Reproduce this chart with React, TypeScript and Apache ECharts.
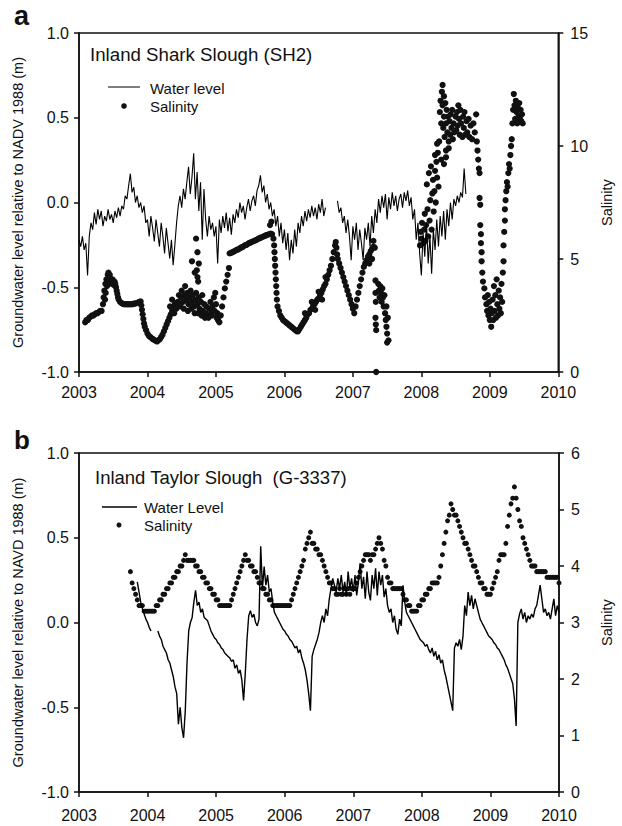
import React, { useEffect, useRef } from "react";
import * as echarts from "echarts";

const FONT = '"Liberation Sans", Arial, Helvetica, sans-serif';

// ---------- Panel a : Inland Shark Slough (SH2) ----------
const waterAStart = 2003.0;
const waterAStep = 0.025;
const waterA: (number | string)[] = [
  // 2003
  -0.22, -0.26, -0.2, -0.28, -0.24, -0.43, -0.2, -0.12, -0.16, -0.06,
  -0.13, -0.04, -0.1, -0.05, -0.14, -0.08, -0.11, -0.04, -0.1, -0.07,
  -0.12, -0.05, -0.09, -0.03, -0.08, -0.02, -0.04, 0.04, 0.02, 0.1,
  0.17, 0.06, 0.09, 0.0, 0.04, -0.03, 0.0, -0.06, -0.02, -0.12,
  // 2004
  -0.1, -0.2, -0.08, -0.15, -0.23, -0.1, -0.18, -0.26, -0.12, -0.2,
  -0.3, -0.15, -0.24, -0.33, -0.22, -0.37, -0.25, -0.12, -0.02, 0.04,
  -0.03, 0.08, 0.02, 0.12, 0.21, 0.05, 0.15, 0.29, 0.02, 0.18,
  -0.05, 0.12, -0.22, 0.08, -0.1, -0.2, -0.08, -0.16, -0.12, -0.2,
  // 2005
  -0.14, -0.36, -0.1, -0.18, -0.08, -0.15, -0.06, -0.17, -0.09, -0.19,
  -0.07, -0.12, -0.04, -0.09, 0.0, -0.06, -0.02, -0.1, -0.03, 0.02,
  -0.05, 0.01, 0.04, -0.02, 0.07, 0.1, 0.16, 0.06, 0.1, 0.0,
  0.05, -0.04, 0.0, -0.08, -0.04, -0.14, -0.08, -0.2, -0.12, -0.24,
  // 2006
  -0.16, -0.28, -0.18, -0.34, -0.22, -0.3, -0.16, -0.26, -0.12, -0.18,
  -0.08, -0.14, -0.05, -0.11, -0.04, -0.09, -0.02, -0.08, -0.03, -0.1,
  -0.01, -0.06, 0.02, -0.08, -0.03, "-", "-", "-", "-", "-",
  "-", 0.01, -0.06, -0.03, -0.12, -0.08, -0.18, -0.1, -0.2, -0.34,
  // 2007
  -0.14, -0.22, -0.12, -0.28, -0.16, -0.24, -0.34, -0.15, -0.22, -0.12,
  -0.26, -0.08, -0.18, -0.04, -0.12, 0.02, -0.06, 0.04, -0.03, 0.05,
  -0.1, 0.03, -0.04, 0.06, -0.02, 0.04, -0.05, 0.02, 0.05, -0.03,
  0.06, 0.01, 0.07, -0.02, 0.03, -0.1, -0.04, -0.22, -0.12, -0.3,
  // 2008
  -0.43, -0.18, -0.32, -0.12, -0.36, -0.2, -0.42, -0.16, -0.28, -0.1,
  -0.26, -0.08, -0.2, -0.05, -0.22, -0.04, -0.14, 0.0, -0.1, 0.02,
  -0.02, 0.04, 0.0, 0.06, 0.03, 0.2, 0.05,
];

const salinityA: [number, number][] = [
  [2003.09, 2.2], [2003.11, 2.3], [2003.13, 2.3], [2003.15, 2.4], [2003.17, 2.45], [2003.19, 2.5],
  [2003.21, 2.5], [2003.23, 2.55], [2003.25, 2.6], [2003.27, 2.6], [2003.29, 2.65], [2003.31, 2.7], [2003.33, 2.7],
  [2003.35, 3.0], [2003.36, 3.3], [2003.37, 3.6], [2003.38, 3.2], [2003.385, 3.9], [2003.39, 3.5], [2003.4, 4.1],
  [2003.41, 3.8], [2003.42, 4.3], [2003.43, 4.4], [2003.44, 4.2], [2003.45, 4.3], [2003.46, 4.0], [2003.47, 4.1],
  [2003.48, 3.9], [2003.49, 4.1], [2003.5, 4.0], [2003.51, 3.85], [2003.52, 4.0], [2003.53, 3.9], [2003.54, 3.75],
  [2003.55, 3.6], [2003.56, 3.45], [2003.57, 3.3], [2003.58, 3.2], [2003.6, 3.1],
  [2003.62, 3.05], [2003.64, 3.02], [2003.66, 3.0], [2003.68, 3.0], [2003.7, 3.0], [2003.72, 3.0], [2003.74, 3.0],
  [2003.76, 3.0], [2003.78, 3.0], [2003.8, 3.02], [2003.82, 3.03], [2003.84, 3.05], [2003.86, 3.07], [2003.88, 3.1], [2003.9, 3.12],
  [2003.91, 2.95], [2003.92, 2.75], [2003.93, 2.55], [2003.94, 2.35], [2003.95, 2.15], [2003.96, 2.0], [2003.98, 1.85],
  [2004.0, 1.7], [2004.02, 1.6], [2004.04, 1.55], [2004.06, 1.5], [2004.08, 1.45], [2004.1, 1.42], [2004.12, 1.38],
  [2004.14, 1.35], [2004.16, 1.4], [2004.18, 1.45], [2004.2, 1.55], [2004.22, 1.65], [2004.24, 1.8], [2004.26, 1.95],
  [2004.28, 2.1], [2004.3, 2.25], [2004.32, 2.4], [2004.34, 2.55], [2004.36, 2.7], [2004.38, 2.85], [2004.4, 3.0],
  [2004.33, 2.9], [2004.36, 3.2], [2004.39, 2.6], [2004.42, 2.8],
  [2004.44, 3.1], [2004.46, 3.4], [2004.47, 2.9], [2004.49, 3.3], [2004.5, 3.6], [2004.52, 3.1], [2004.54, 3.4],
  [2004.55, 3.8], [2004.57, 3.2], [2004.58, 3.5], [2004.6, 3.0], [2004.62, 3.3], [2004.63, 3.6], [2004.65, 3.1],
  [2004.66, 3.4], [2004.68, 2.9], [2004.7, 3.2], [2004.71, 3.5], [2004.73, 3.0], [2004.75, 3.3], [2004.76, 2.8],
  [2004.78, 3.1], [2004.8, 3.4], [2004.81, 2.7], [2004.83, 3.0], [2004.85, 2.6], [2004.86, 2.9], [2004.88, 2.5],
  [2004.9, 2.8], [2004.92, 3.1], [2004.93, 2.6], [2004.95, 2.9], [2004.97, 3.3], [2004.99, 3.5], [2005.0, 3.0],
  [2005.02, 2.6], [2005.03, 2.3], [2005.05, 2.2], [2005.07, 2.5], [2005.09, 2.9], [2005.11, 3.3], [2005.13, 3.7],
  [2005.15, 4.0], [2005.17, 4.3], [2005.19, 4.6],
  [2004.48, 3.0], [2004.53, 2.8], [2004.59, 2.7], [2004.64, 2.8], [2004.69, 2.6], [2004.74, 2.6], [2004.79, 2.5],
  [2004.84, 2.4], [2004.89, 2.4], [2004.94, 2.5], [2004.98, 2.7], [2005.01, 2.4],
  [2004.65, 4.9], [2004.71, 5.9], [2004.73, 5.3], [2004.75, 4.8], [2004.72, 4.5], [2004.73, 4.2], [2004.74, 4.0], [2004.69, 4.4],
  [2005.2, 5.25], [2005.22, 5.27], [2005.24, 5.3], [2005.26, 5.33], [2005.28, 5.36], [2005.3, 5.4], [2005.32, 5.42],
  [2005.34, 5.45], [2005.36, 5.5], [2005.38, 5.52], [2005.4, 5.55], [2005.42, 5.6], [2005.44, 5.62], [2005.46, 5.65],
  [2005.48, 5.7], [2005.5, 5.72], [2005.52, 5.75], [2005.54, 5.78], [2005.56, 5.8], [2005.58, 5.83], [2005.6, 5.86],
  [2005.62, 5.9], [2005.64, 5.92], [2005.66, 5.95], [2005.68, 5.98], [2005.7, 6.0], [2005.72, 6.03], [2005.74, 6.06],
  [2005.76, 6.08], [2005.78, 6.1], [2005.8, 6.12], [2005.82, 6.1], [2005.84, 5.9], [2005.79, 6.5], [2005.81, 6.65],
  [2005.85, 5.6], [2005.855, 5.3], [2005.86, 5.0], [2005.865, 4.7], [2005.87, 4.4], [2005.875, 4.1], [2005.88, 3.8],
  [2005.885, 3.5], [2005.89, 3.2], [2005.9, 2.9], [2005.92, 2.7], [2005.94, 2.5], [2005.96, 2.4], [2005.98, 2.3],
  [2006.0, 2.25], [2006.02, 2.2], [2006.04, 2.15], [2006.06, 2.1], [2006.08, 2.05], [2006.1, 2.0], [2006.12, 1.95],
  [2006.14, 1.9], [2006.16, 1.85], [2006.18, 1.8],
  [2006.2, 1.8], [2006.22, 1.9], [2006.24, 2.0], [2006.26, 2.1], [2006.28, 2.2], [2006.3, 2.3], [2006.32, 2.4],
  [2006.34, 2.55], [2006.36, 2.6], [2006.38, 2.75], [2006.4, 2.8], [2006.42, 2.95], [2006.44, 3.0], [2006.46, 3.1],
  [2006.48, 3.2], [2006.5, 3.25], [2006.52, 3.4], [2006.54, 3.5], [2006.56, 3.65], [2006.58, 3.8], [2006.6, 3.9],
  [2006.62, 4.1], [2006.64, 4.3], [2006.66, 4.5], [2006.68, 4.7], [2006.7, 5.0], [2006.72, 5.3], [2006.74, 5.6], [2006.75, 5.75],
  [2006.3, 2.6], [2006.4, 3.1], [2006.5, 3.55], [2006.6, 4.2], [2006.45, 2.75], [2006.55, 3.2],
  [2006.76, 5.5], [2006.77, 5.2], [2006.78, 5.0], [2006.8, 4.8], [2006.82, 4.6], [2006.84, 4.4], [2006.86, 4.2],
  [2006.88, 4.0], [2006.9, 3.8], [2006.92, 3.6], [2006.94, 3.4], [2006.96, 3.2], [2006.98, 3.0], [2007.0, 2.8], [2007.02, 2.6],
  [2007.04, 2.9], [2007.06, 3.2], [2007.08, 3.5], [2007.1, 3.8], [2007.12, 4.1], [2007.14, 4.4], [2007.16, 4.65],
  [2007.18, 4.8], [2007.2, 4.95], [2007.22, 5.1], [2007.24, 5.2], [2007.26, 5.35], [2007.28, 5.45], [2007.3, 5.55],
  [2007.32, 5.5], [2007.24, 4.8], [2007.28, 5.0], [2007.3, 5.8],
  [2007.33, 4.05], [2007.33, 3.5], [2007.335, 3.1], [2007.33, 2.4], [2007.335, 2.1], [2007.34, 1.85], [2007.34, 0.0],
  [2007.37, 3.9], [2007.38, 3.6], [2007.39, 3.3], [2007.4, 3.8], [2007.41, 3.5], [2007.42, 3.1], [2007.43, 3.7],
  [2007.44, 3.3], [2007.45, 2.9], [2007.46, 3.4], [2007.47, 2.6], [2007.48, 2.3], [2007.49, 2.9], [2007.49, 2.0],
  [2007.5, 1.7], [2007.51, 2.4], [2007.52, 1.4], [2007.5, 1.3],
  [2007.98, 5.6], [2007.99, 6.2], [2008.0, 5.9], [2008.01, 6.6], [2008.03, 5.7], [2008.04, 6.3], [2008.05, 7.0],
  [2008.06, 5.8], [2008.07, 6.5], [2008.08, 8.3], [2008.09, 7.2], [2008.1, 6.0], [2008.11, 8.8], [2008.12, 6.7],
  [2008.13, 7.6], [2008.14, 9.1], [2008.15, 6.3], [2008.16, 7.9], [2008.17, 8.5], [2008.18, 7.1], [2008.19, 8.0],
  [2008.2, 8.9], [2008.21, 7.5], [2008.22, 9.3], [2008.23, 8.6], [2008.24, 9.7], [2008.25, 8.2],
  [2008.2, 9.6], [2008.23, 10.1], [2008.29, 9.4], [2008.33, 9.2], [2008.36, 9.5], [2008.4, 9.9],
  [2008.26, 10.2], [2008.27, 11.5], [2008.28, 12.0], [2008.29, 11.0], [2008.3, 12.4], [2008.31, 12.7], [2008.31, 11.8],
  [2008.32, 10.8], [2008.33, 12.2], [2008.33, 11.3], [2008.34, 10.4], [2008.35, 11.9], [2008.36, 11.0], [2008.36, 9.8],
  [2008.37, 11.6], [2008.38, 10.6], [2008.39, 11.3], [2008.4, 10.2], [2008.41, 11.1], [2008.42, 10.5], [2008.43, 11.4],
  [2008.44, 10.8], [2008.45, 11.6], [2008.46, 10.3], [2008.47, 11.0], [2008.48, 10.6], [2008.5, 11.3], [2008.51, 10.7],
  [2008.52, 11.5], [2008.53, 10.9], [2008.54, 11.8], [2008.55, 11.2], [2008.56, 10.5], [2008.57, 11.6], [2008.58, 11.0],
  [2008.6, 10.4], [2008.61, 11.3], [2008.62, 10.8], [2008.63, 11.5], [2008.64, 10.5], [2008.66, 11.1], [2008.67, 10.6],
  [2008.69, 11.2], [2008.7, 10.4], [2008.72, 10.9], [2008.74, 10.3], [2008.76, 11.0], [2008.78, 10.6], [2008.8, 11.4],
  [2008.81, 10.2], [2008.82, 9.8], [2008.83, 9.4], [2008.84, 9.0], [2008.85, 8.8],
  [2008.85, 7.7], [2008.86, 7.4], [2008.86, 6.5], [2008.87, 6.1], [2008.87, 5.7], [2008.88, 5.3], [2008.88, 4.9],
  [2008.89, 4.4], [2008.9, 4.0], [2008.92, 3.7], [2008.93, 3.3], [2008.95, 3.0], [2008.96, 2.7], [2008.97, 3.4],
  [2008.98, 2.5], [2008.99, 3.1], [2009.0, 2.3], [2009.01, 2.8], [2009.02, 2.0], [2009.03, 2.6], [2009.04, 3.2],
  [2009.05, 2.3], [2009.06, 3.8], [2009.07, 2.7], [2009.08, 3.4], [2009.09, 2.4], [2009.1, 4.1], [2009.11, 3.0],
  [2009.12, 2.5], [2009.13, 3.6], [2009.14, 2.8], [2009.15, 3.3], [2009.16, 2.6], [2009.17, 3.9], [2009.18, 3.1],
  [2009.19, 4.4], [2009.2, 4.9], [2009.2, 5.6], [2009.21, 6.2], [2009.22, 6.7], [2009.22, 7.2], [2009.23, 7.6],
  [2009.24, 8.0], [2009.25, 8.4], [2009.26, 8.2], [2009.27, 8.8], [2009.28, 9.2], [2009.29, 9.0], [2009.3, 9.6],
  [2009.31, 10.0], [2009.32, 10.3], [2009.33, 11.0], [2009.34, 11.6], [2009.35, 12.3], [2009.36, 11.8], [2009.37, 11.2],
  [2009.38, 12.0], [2009.39, 11.5], [2009.4, 11.0], [2009.41, 11.7], [2009.42, 11.3], [2009.43, 11.9], [2009.44, 11.2],
  [2009.45, 11.6], [2009.46, 11.1], [2009.47, 11.4], [2009.48, 11.0],
];

// ---------- Panel b : Inland Taylor Slough (G-3337) ----------
const waterBStart = 2003.85;
const waterBStep = 0.025;
const waterB: (number | string)[] = [
  0.24, 0.18, 0.12, 0.08, 0.05, 0.02,
  // 2004
  0.0, -0.03, -0.05, "-", "-", "-", -0.05, -0.08, -0.1, -0.14,
  -0.16, -0.18, -0.22, -0.24, -0.28, -0.32, -0.38, -0.42, -0.6, -0.5,
  -0.62, -0.68, -0.52, -0.24, -0.05, 0.0, 0.03, 0.12, 0.19, 0.1,
  0.12, 0.06, 0.08, 0.03, 0.02, 0.01, -0.02, -0.05, -0.07, -0.09,
  // 2005
  -0.1, -0.12, -0.13, -0.15, -0.16, -0.18, -0.19, -0.2, -0.21, -0.23,
  -0.22, -0.27, -0.25, -0.3, -0.28, -0.34, -0.46, -0.3, -0.1, 0.04,
  0.07, 0.03, 0.05, 0.0, -0.02, 0.02, 0.45, 0.2, 0.33, 0.22,
  0.28, 0.18, 0.2, 0.12, 0.06, 0.04, 0.02, 0.0, -0.02, -0.04,
  // 2006
  -0.05, -0.07, -0.08, -0.1, -0.11, -0.13, -0.15, -0.14, -0.18, -0.16,
  -0.21, -0.24, -0.28, -0.34, -0.42, -0.52, -0.2, -0.16, -0.13, -0.1,
  -0.06, 0.0, 0.04, 0.0, 0.08, 0.04, 0.14, 0.2, 0.26, 0.22,
  0.18, 0.26, 0.2, 0.28, 0.18, 0.24, 0.16, 0.3, 0.2, 0.26,
  // 2007
  0.18, 0.28, 0.16, 0.24, 0.35, 0.2, 0.27, 0.14, 0.3, 0.18,
  0.13, 0.28, 0.2, 0.32, 0.16, 0.3, 0.22, 0.28, 0.15, 0.2,
  0.1, 0.06, 0.08, 0.0, 0.04, -0.04, -0.07, 0.02, -0.02, 0.22,
  0.12, 0.06, 0.04, 0.02, 0.0, -0.02, -0.04, -0.06, -0.08, -0.1,
  // 2008
  -0.11, -0.12, -0.14, -0.13, -0.16, -0.18, -0.15, -0.2, -0.17, -0.22,
  -0.19, -0.24, -0.22, -0.28, -0.32, -0.37, -0.42, -0.47, -0.52, -0.15,
  -0.12, -0.14, -0.1, -0.16, -0.08, 0.1, 0.04, 0.18, 0.1, 0.16,
  0.08, 0.14, 0.1, 0.06, 0.02, 0.0, -0.02, -0.04, -0.06, -0.08,
  // 2009
  -0.09, -0.1, -0.12, -0.13, -0.15, -0.16, -0.18, -0.2, -0.22, -0.25,
  -0.27, -0.3, -0.33, -0.36, -0.45, -0.61, 0.0, 0.05, 0.08, 0.02,
  0.06, 0.0, 0.04, 0.02, 0.05, 0.03, 0.08, 0.1, 0.16, 0.22,
  0.14, 0.06, 0.08, 0.04, 0.06, 0.02, 0.08, 0.14, 0.04, 0.1,
  0.06,
];

const salinityBStart = 2003.75;
const salinityBStep = 0.025;
const salinityB: number[] = [
  3.9, 3.7, 3.6, 3.5, 3.4, 3.3, 3.3, 3.3, 3.2, 3.2,
  // 2004
  3.2, 3.2, 3.2, 3.2, 3.2, 3.3, 3.3, 3.4, 3.4, 3.5,
  3.5, 3.6, 3.6, 3.7, 3.7, 3.8, 3.8, 3.9, 3.9, 4.0,
  4.0, 4.1, 4.2, 4.1, 4.1, 4.1, 4.1, 4.1, 4.0, 4.0,
  3.9, 3.9, 3.8, 3.8, 3.7, 3.7, 3.6, 3.6, 3.5, 3.5,
  // 2005
  3.4, 3.4, 3.3, 3.3, 3.3, 3.3, 3.3, 3.3, 3.3, 3.4,
  3.5, 3.6, 3.7, 3.8, 3.9, 4.0, 4.1, 4.2, 4.1, 4.1,
  4.0, 4.0, 3.9, 3.9, 3.8, 3.7, 3.7, 3.6, 3.6, 3.5,
  3.5, 3.4, 3.4, 3.3, 3.3, 3.3, 3.3, 3.3, 3.3, 3.3,
  // 2006
  3.3, 3.3, 3.3, 3.3, 3.4, 3.5, 3.6, 3.7, 3.8, 3.9,
  4.0, 4.1, 4.3, 4.4, 4.5, 4.6, 4.4, 4.4, 4.3, 4.3,
  4.2, 4.2, 4.1, 4.0, 3.9, 3.8, 3.7, 3.7, 3.6, 3.6,
  3.5, 3.5, 3.6, 3.5, 3.5, 3.6, 3.5, 3.6, 3.5, 3.6,
  // 2007
  3.6, 3.6, 3.7, 3.8, 3.9, 4.0, 4.1, 4.2, 4.2, 4.2,
  4.1, 4.2, 4.2, 4.3, 4.4, 4.5, 4.4, 4.3, 4.1, 4.0,
  3.8, 3.7, 3.7, 3.6, 3.6, 3.6, 3.6, 3.6, 3.6, 3.5,
  3.4, 3.4, 3.3, 3.3, 3.2, 3.2, 3.2, 3.2, 3.3, 3.3,
  // 2008
  3.4, 3.4, 3.5, 3.5, 3.6, 3.6, 3.7, 3.7, 3.7, 3.7,
  3.8, 4.0, 4.2, 4.4, 4.6, 4.8, 4.9, 5.1, 5.0, 4.9,
  4.9, 4.8, 4.7, 4.6, 4.5, 4.4, 4.4, 4.3, 4.2, 4.1,
  4.0, 4.0, 3.9, 3.8, 3.7, 3.7, 3.6, 3.6, 3.5, 3.5,
  // 2009
  3.5, 3.6, 3.7, 3.8, 3.9, 4.1, 4.2, 4.2, 4.2, 4.4,
  4.7, 4.9, 5.1, 5.2, 5.4, 5.2, 5.0, 4.8, 4.7, 4.5,
  4.4, 4.3, 4.2, 4.1, 4.0, 4.0, 4.0, 3.9, 3.9, 3.9,
  3.9, 3.9, 3.9, 3.8, 3.8, 3.8, 3.8, 3.8, 3.8, 3.8,
  3.7,
];

// ---------- Axes ----------
const yearMin = 2003;
const yearMax = 2010;
const levelMin = -1;
const levelMax = 1;
const salAMax = 15;
const salAInterval = 5;
const salBMax = 6;
const salBInterval = 1;

const titleA = "Inland Shark Slough (SH2)";
const titleB = "Inland Taylor Slough  (G-3337)";
const leftName = "Groundwater level relative to NADV 1988 (m)";
const leftNameB = "Groundwater level relative to NAVD 1988 (m)";

const toSeries = (start: number, step: number, vals: (number | string)[]) =>
  vals.map((v, i) => [Math.round((start + i * step) * 1000) / 1000, v]);

const INK = "#111";

function xAxis(gridIndex: number, margin: number) {
  return {
    gridIndex,
    type: "value",
    min: yearMin,
    max: yearMax,
    interval: 1,
    axisLine: { show: true, onZero: false, lineStyle: { color: INK, width: 1.5 } },
    axisTick: { show: true, length: 5, lineStyle: { color: INK, width: 1.5 } },
    axisLabel: { margin, fontSize: 16, color: INK, fontFamily: FONT, formatter: (v: number) => String(v) },
    splitLine: { show: false },
  };
}

function leftAxis(gridIndex: number, name: string) {
  return {
    gridIndex,
    type: "value",
    position: "left",
    min: levelMin,
    max: levelMax,
    interval: 0.5,
    name,
    nameLocation: "middle",
    nameRotate: 90,
    nameGap: 54,
    nameTextStyle: { fontSize: 14.5, color: INK, fontFamily: FONT },
    axisLine: { show: true, onZero: false, lineStyle: { color: INK, width: 1.5 } },
    axisTick: { show: true, length: 5, lineStyle: { color: INK, width: 1.5 } },
    axisLabel: { margin: 10, fontSize: 16, color: INK, fontFamily: FONT, formatter: (v: number) => v.toFixed(1) },
    splitLine: { show: false },
  };
}

function rightAxis(gridIndex: number, max: number, interval: number) {
  return {
    gridIndex,
    type: "value",
    position: "right",
    min: 0,
    max,
    interval,
    name: "Salinity",
    nameLocation: "middle",
    nameRotate: 90,
    nameGap: 40,
    nameTextStyle: { fontSize: 14.5, color: INK, fontFamily: FONT },
    axisLine: { show: true, onZero: false, lineStyle: { color: INK, width: 1.5 } },
    axisTick: { show: true, length: 5, lineStyle: { color: INK, width: 1.5 } },
    axisLabel: { margin: 12, fontSize: 16, color: INK, fontFamily: FONT, formatter: (v: number) => String(v) },
    splitLine: { show: false },
  };
}

function txt(text: string, x: number, y: number, font: string) {
  return {
    type: "text",
    x,
    y,
    style: { text, fill: INK, font, verticalAlign: "middle", align: "left" },
  };
}

export default function App() {
  const ref = useRef<HTMLDivElement>(null);
  useEffect(() => {
    if (!ref.current) return;
    const chart = echarts.init(ref.current, null, { renderer: "svg" });
    const gridBase = { left: 79, width: 484, height: 339, show: true, borderColor: INK, borderWidth: 1.5 };
    chart.setOption({
      animation: false,
      backgroundColor: "#fff",
      grid: [
        { ...gridBase, top: 33 },
        { ...gridBase, top: 453 },
      ],
      xAxis: [xAxis(0, 12), xAxis(1, 15)],
      yAxis: [leftAxis(0, leftName), rightAxis(0, salAMax, salAInterval), leftAxis(1, leftNameB), rightAxis(1, salBMax, salBInterval)],
      series: [
        {
          name: "Water level",
          type: "line",
          xAxisIndex: 0,
          yAxisIndex: 0,
          symbol: "none",
          connectNulls: false,
          lineStyle: { color: "#000", width: 1.1 },
          data: toSeries(waterAStart, waterAStep, waterA),
        },
        {
          name: "Salinity",
          type: "scatter",
          xAxisIndex: 0,
          yAxisIndex: 1,
          symbolSize: 6.2,
          itemStyle: { color: INK, opacity: 1 },
          data: salinityA,
        },
        {
          name: "Water Level",
          type: "line",
          xAxisIndex: 1,
          yAxisIndex: 2,
          symbol: "none",
          connectNulls: false,
          lineStyle: { color: "#000", width: 1.4 },
          data: toSeries(waterBStart, waterBStep, waterB),
        },
        {
          name: "Salinity B",
          type: "scatter",
          xAxisIndex: 1,
          yAxisIndex: 3,
          symbolSize: 5,
          itemStyle: { color: INK, opacity: 1 },
          data: toSeries(salinityBStart, salinityBStep, salinityB),
        },
      ],
      graphic: [
        txt("a", 14, 16, `bold 27px ${FONT}`),
        txt("b", 14, 440, `bold 26px ${FONT}`),
        txt(titleA, 90, 54, `18.7px ${FONT}`),
        txt(titleB, 95, 477, `18.5px ${FONT}`),
        { type: "line", shape: { x1: 108, y1: 87, x2: 140, y2: 87 }, style: { stroke: "#000", lineWidth: 1 } },
        txt("Water level", 150, 88, `15px ${FONT}`),
        { type: "circle", shape: { cx: 124, cy: 106, r: 2.8 }, style: { fill: INK } },
        txt("Salinity", 150, 106.5, `15px ${FONT}`),
        { type: "line", shape: { x1: 102, y1: 507, x2: 137, y2: 507 }, style: { stroke: "#000", lineWidth: 1.4 } },
        txt("Water Level", 144, 507, `15px ${FONT}`),
        { type: "circle", shape: { cx: 119, cy: 525, r: 2.5 }, style: { fill: INK } },
        txt("Salinity", 144, 525, `15px ${FONT}`),
      ],
    });
    return () => chart.dispose();
  }, []);
  return (
    <div
      ref={ref}
      style={{ position: "absolute", left: 0, top: 0, width: 622, height: 826, background: "#fff" }}
    />
  );
}
